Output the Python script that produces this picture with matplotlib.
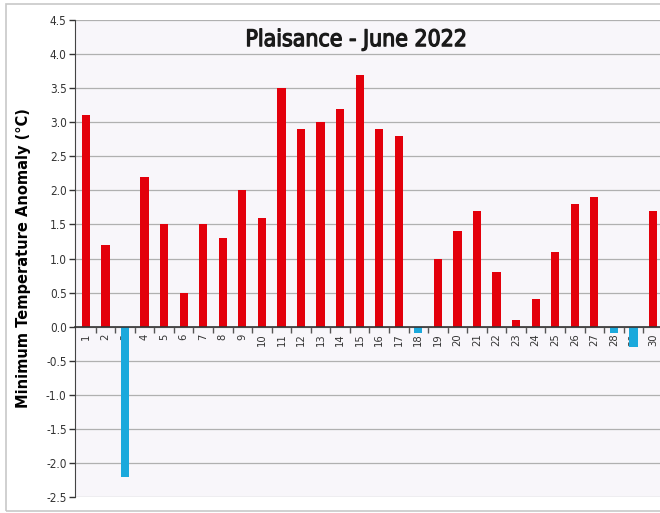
import numpy as np
import matplotlib
matplotlib.use("Agg")
from matplotlib import pyplot as plt
from matplotlib.patches import Rectangle
import matplotlib.patheffects as pe

days = list(range(1, 31))
anomaly = [3.1, 1.2, -2.2, 2.2, 1.5, 0.5, 1.5, 1.3, 2.0, 1.6,
           3.5, 2.9, 3.0, 3.2, 3.7, 2.9, 2.8, -0.1, 1.0, 1.4,
           1.7, 0.8, 0.1, 0.4, 1.1, 1.8, 1.9, -0.1, -0.3, 1.7]
yticks = [-2.5, -2.0, -1.5, -1.0, -0.5, 0.0, 0.5, 1.0, 1.5, 2.0, 2.5, 3.0, 3.5, 4.0, 4.5]

red = '#e3000b'
blue = '#1ba9dc'
colors = [red if v >= 0 else blue for v in anomaly]

fig = plt.figure(figsize=(6.6, 5.13), dpi=100)
fig.patch.set_facecolor('white')
fig.patches.append(Rectangle((6/660, 0.004), 1, 0.988, transform=fig.transFigure,
                             fill=False, edgecolor='#c8c8c8', lw=1.2))

ax = fig.add_axes([75/660, 1 - 497/513, 1 - 75/660, (497 - 20)/513])
ax.set_facecolor('#f8f6fa')

ax.bar(days, anomaly, width=0.42, color=colors, zorder=3)

ax.set_ylim(-2.5, 4.5)
ax.set_xlim(0.44, 30.36)
ax.set_yticks(yticks)
ax.set_yticklabels(['%.1f' % t for t in yticks], fontsize=8.5,
                   fontstretch='condensed', color='#333333')
ax.yaxis.grid(True, color='#b0b0b0', lw=0.9, zorder=0)
ax.tick_params(axis='y', length=4, width=1, color='#333333', pad=2)

ax.spines['top'].set_visible(False)
ax.spines['right'].set_visible(False)
ax.spines['left'].set_color('#444444')
ax.spines['bottom'].set_position(('data', 0))
ax.spines['bottom'].set_color('#333333')
ax.spines['bottom'].set_linewidth(1.2)
ax.spines['bottom'].set_zorder(4)

ax.set_xticks(days)
ax.set_xticklabels([str(d) for d in days], rotation=90, fontsize=8,
                   fontstretch='condensed', color='#333333')
ax.tick_params(axis='x', which='major', length=0, pad=5)
ax.set_xticks(np.arange(1.5, 30.5, 1), minor=True)
ax.tick_params(axis='x', which='minor', length=4, width=1, color='#555555', direction='out')

ax.set_ylabel('Minimum Temperature Anomaly (°C)', fontsize=10.5, fontweight='bold', labelpad=11)

ax.text(0.48, 0.983, 'Plaisance - June 2022', transform=ax.transAxes, ha='center', va='top',
        fontsize=16.5, fontstretch='condensed', color='#1a1a1a',
        path_effects=[pe.withStroke(linewidth=0.9, foreground='#1a1a1a')])

fig.savefig('out.png', dpi=100)
